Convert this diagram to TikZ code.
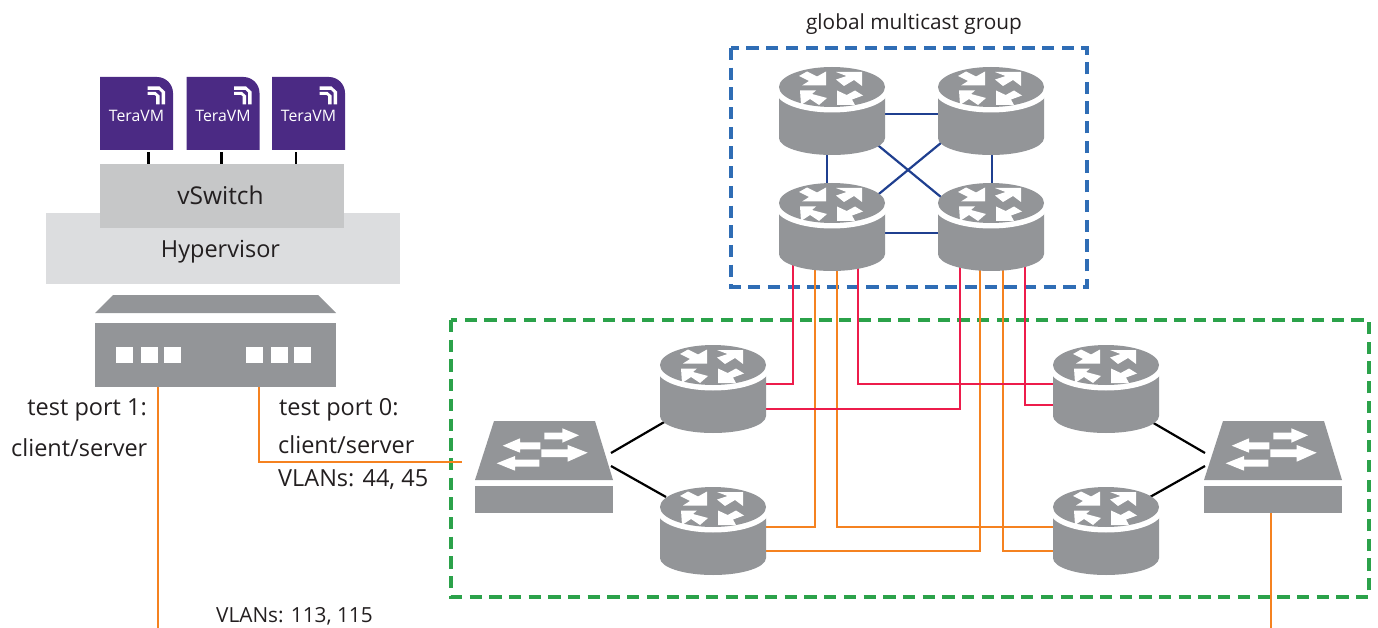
\documentclass[tikz,border=0pt]{standalone}
\usepackage{fontspec}
\setmainfont{Open Sans}
\usetikzlibrary{calc}
\definecolor{devgray}{HTML}{939598}
\definecolor{vsw}{HTML}{C6C7C8}
\definecolor{hyp}{HTML}{DCDDDF}
\definecolor{tvm}{HTML}{4B2A84}
\definecolor{navy}{HTML}{1F3F8F}
\definecolor{redl}{HTML}{ED1C4B}
\definecolor{orgl}{HTML}{F58220}
\definecolor{bluebox}{HTML}{2F6DB5}
\definecolor{greenbox}{HTML}{2BA24A}
\definecolor{ink}{HTML}{231F20}
\tikzset{
 x=1pt,y=-1pt,
 lbl/.style={font=\fontsize{23.5}{26}\selectfont,inner sep=0pt,text=ink},
 lblsmall/.style={font=\fontsize{20.8}{24}\selectfont,inner sep=0pt,text=ink},
 routerbox/.style={minimum width=106pt,minimum height=88pt,inner sep=0pt},
 switchbox/.style={minimum width=138pt,minimum height=92pt,inner sep=0pt},
 tvmbox/.style={minimum width=73pt,minimum height=73pt,inner sep=0pt},
 navyl/.style={navy,line width=2.2pt},
 redline/.style={redl,line width=2.6pt},
 orgline/.style={orgl,line width=2.6pt},
 blkl/.style={black,line width=2.2pt},
 groupbox/.style={line width=3.8pt,dash pattern=on 12.3pt off 7.4pt},
 routerpic/.pic={
  \fill[devgray] (-53,20) -- (-53,71) .. controls (-53,80.4) and (-29.3,88) .. (0,88) .. controls (29.3,88) and (53,80.4) .. (53,71) -- (53,20) -- cycle;
  \fill[white] (0,24.5) ellipse[x radius=56,y radius=21];
  \fill[devgray] (0,20) ellipse[x radius=53,y radius=20];
  \fill[white] (-6,18.5) -- (-6,4.5) -- (-15,9.5) -- (-25,4.5) -- (-33,9) -- (-23,14) -- (-30,18.5) -- cycle;
  \fill[white] (30,5) -- (30,19) -- (22,13) -- (12,19) -- (4,12.5) -- (14.5,9) -- (4,5) -- cycle;
  \fill[white] (-32,23.5) -- (-16,23.5) -- (-20,27) -- (-5,31) -- (-13,38) -- (-22,32) -- (-31,38) -- cycle;
  \fill[white] (5,38) -- (5,23.5) -- (14.7,28) -- (23,23.5) -- (31,28.5) -- (20,32.5) -- (23,38) -- cycle;
 },
 switchpic/.pic={
  \fill[devgray] (-50,-46) -- (51,-46) -- (69,13) -- (-69,13) -- cycle;
  \fill[devgray] (-69,19) rectangle (69,46);
  \fill[white] (0.3,-34.3) -- (18.3,-34.3) -- (18.3,-38.7) -- (35,-31.7) -- (18.3,-24.3) -- (18.3,-27.7) -- (0.3,-27.7) -- cycle;
  \fill[white] (-41.3,-21.3) -- (-24,-28.7) -- (-24,-24.7) -- (-3.7,-24.7) -- (-3.7,-17.7) -- (-24,-17.7) -- (-24,-14.3) -- cycle;
  \fill[white] (-2.7,-17.7) -- (23.7,-17.7) -- (23.7,-22) -- (43.7,-14.3) -- (23.7,-5.3) -- (23.7,-10) -- (-2.7,-10) -- cycle;
  \fill[white] (-47.3,-3.7) -- (-29,-11) -- (-29,-7.3) -- (-4.7,-7.3) -- (-4.7,-0.3) -- (-29,-0.3) -- (-29,3.7) -- cycle;
 },
 tvmpic/.pic={
  \fill[tvm] (-36.5,-36.5) -- (20.5,-36.5) .. controls (29.3,-36.5) and (36.5,-29.3) .. (36.5,-20.5) -- (36.5,36.5) -- (-36.5,36.5) -- cycle;
  \fill[white] (11,-27) -- (23,-27) -- (28.5,-22) -- (28.5,-9) -- (25,-9) -- (25,-21) -- (22.5,-23.5) -- (11,-23.5) -- cycle;
  \fill[white] (11,-21.5) -- (19,-21.5) -- (23,-18) -- (23,-9) -- (19.5,-9) -- (19.5,-17.5) -- (18,-18.5) -- (11,-18.5) -- cycle;
 }
}
\begin{document}
\begin{tikzpicture}
\useasboundingbox (0,0) rectangle (1378,628);
% device nodes (positions only; icons drawn over connectors)
\node[routerbox] (r1) at (832,111) {};
\node[routerbox] (r2) at (991,111) {};
\node[routerbox] (r3) at (832,227) {};
\node[routerbox] (r4) at (991,227) {};
\node[routerbox] (r5) at (713,389) {};
\node[routerbox] (r6) at (713,531) {};
\node[routerbox] (r7) at (1106,389) {};
\node[routerbox] (r8) at (1106,531) {};
\node[switchbox] (s1) at (544,467) {};
\node[switchbox] (s2) at (1273,467) {};
\node[minimum width=241pt,minimum height=92pt,inner sep=0pt] (ts) at (215.5,341) {};
\coordinate (e1) at (158,628);
\coordinate (e2) at (1271,628);
\coordinate (e0) at (462,462);
% group boxes
\draw[groupbox,bluebox] (731,48) rectangle (1087,287);
\draw[groupbox,greenbox] (451,320) rectangle (1369,597);
% mesh
\draw[navyl] ([shift={(0,3)}]r1.center) -- ([shift={(0,3)}]r2.center);
\draw[navyl] ([shift={(0,6)}]r3.center) -- ([shift={(0,6)}]r4.center);
\draw[navyl] ([shift={(-5,0)}]r1.center) -- ([shift={(-5,0)}]r3.center);
\draw[navyl] ([shift={(1,0)}]r2.center) -- ([shift={(1,0)}]r4.center);
\draw[navyl] ([shift={(20,13)}]r1.center) -- ([shift={(-20,-5.3)}]r4.center);
\draw[navyl] ([shift={(-20,7.3)}]r2.center) -- ([shift={(20,-11)}]r3.center);
% uplinks
\draw[orgline] ([shift={(-17,0)}]r3.center) |- ([shift={(0,-4)}]r6.center);
\draw[orgline] ([shift={(5,0)}]r3.center) |- ([shift={(0,-4)}]r8.center);
\draw[orgline] ([shift={(-11,0)}]r4.center) |- ([shift={(0,20)}]r6.center);
\draw[orgline] ([shift={(12,0)}]r4.center) |- ([shift={(0,20)}]r8.center);
\draw[redline] ([shift={(-39,0)}]r3.center) |- ([shift={(0,-5)}]r5.center);
\draw[redline] ([shift={(26,0)}]r3.center) |- ([shift={(0,-5)}]r7.center);
\draw[redline] ([shift={(-31,0)}]r4.center) |- ([shift={(0,20)}]r5.center);
\draw[redline] ([shift={(34,0)}]r4.center) |- ([shift={(0,16)}]r7.center);
% access links
\draw[blkl] ([shift={(67,-14)}]s1.center) -- ([shift={(-47,32)}]r5.center);
\draw[blkl] ([shift={(67,-1)}]s1.center) -- ([shift={(-47,-34)}]r6.center);
\draw[blkl] ([shift={(-68,-14)}]s2.center) -- ([shift={(44,32)}]r7.center);
\draw[blkl] ([shift={(-68,-1)}]s2.center) -- ([shift={(44,-34)}]r8.center);
\draw[orgline] ([shift={(43.5,0)}]ts.south) |- (e0);
\draw[orgline] ([shift={(-57.5,0)}]ts.south) -- (e1);
\draw[orgline] ([shift={(-2,0)}]s2.south) -- (e2);
% icons
\foreach \px/\py in {832/67,991/67,832/183,991/183,713/345,713/487,1106/345,1106/487}
  \pic at (\px,\py) {routerpic};
\pic at (544,467) {switchpic};
\pic at (1273,467) {switchpic};
% test switch
\fill[devgray] (113,295) -- (318,295) -- (336,313) -- (95,313) -- cycle;
\fill[devgray] (95,323) rectangle (336,387);
\foreach \a in {116,141,164,246,271,294} \fill[white] (\a,347) rectangle ++(17,16);
% hypervisor stack
\node[fill=hyp,minimum width=354pt,minimum height=71pt,inner sep=0pt] (hv) at (223,248.5) {};
\node[fill=vsw,minimum width=244pt,minimum height=64pt,inner sep=0pt] (vs) at (222,196) {};
\node[lbl,font=\fontsize{24.5}{26}\selectfont] at (220.5,195) {vSwitch};
\node[lbl] at (220.5,251.5) {Hypervisor};
% VMs
\node[tvmbox] (v1) at (136.5,113.5) {};
\node[tvmbox] (v2) at (223,113.5) {};
\node[tvmbox] (v3) at (308.5,113.5) {};
\foreach \n in {v1,v2,v3} {
  \pic at (\n.center) {tvmpic};
  \node[text=white,font=\fontsize{15.8}{17}\selectfont,inner sep=0pt] at ([shift={(0,2)}]\n.center) {TeraVM};
}
\draw[blkl] ([shift={(12,2)}]v1.south) -- ([shift={(12,0)}]v1.south |- vs.north);
\draw[blkl] ([shift={(-1.5,2)}]v2.south) -- ([shift={(-1.5,0)}]v2.south |- vs.north);
\draw[blkl] ([shift={(-12.5,2)}]v3.south) -- ([shift={(-12.5,0)}]v3.south |- vs.north);
\node[lblsmall,anchor=base] at (914,30) {global multicast group};
\node[lbl,anchor=base east] at (147,415) {test port 1:};
\node[lbl,anchor=base west] at (11,456) {client/server};
\node[lbl,anchor=base west] at (279,415) {test port 0:};
\node[lbl,anchor=base west] at (278,453) {client/server};
\node[lbl,anchor=base west] at (278,486) {VLANs: 44, 45};
\node[lblsmall,anchor=base west] at (216,622) {VLANs: 113, 115};
\end{tikzpicture}
\end{document}
